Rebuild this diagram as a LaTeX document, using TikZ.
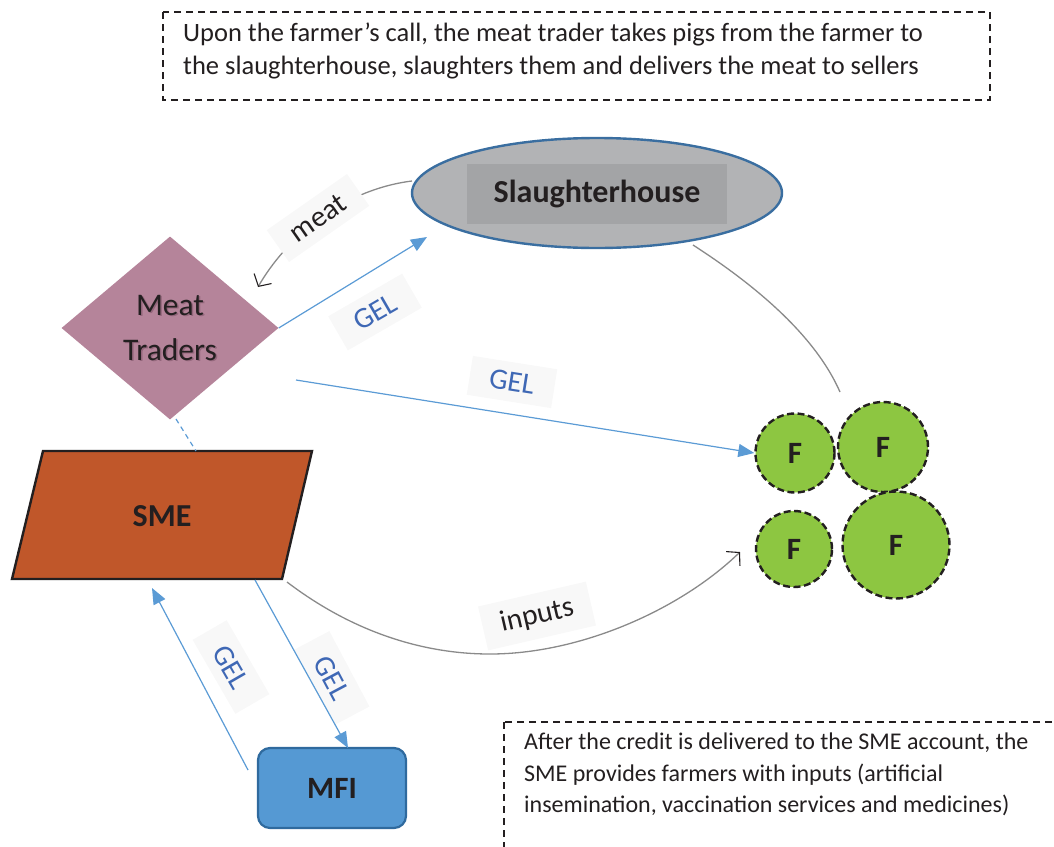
\documentclass[tikz,border=0pt]{standalone}
\usepackage{fontspec}
\setmainfont{Carlito}
\usetikzlibrary{shapes.geometric,arrows.meta}
\definecolor{inkdark}{HTML}{231F20}
\definecolor{shgray}{HTML}{B2B3B5}
\definecolor{shinner}{HTML}{A3A4A6}
\definecolor{shborder}{HTML}{3A6EA0}
\definecolor{mauve}{HTML}{B5849A}
\definecolor{mauveshade}{HTML}{7E5568}
\definecolor{smefill}{HTML}{C0572A}
\definecolor{mfifill}{HTML}{5599D3}
\definecolor{mfiborder}{HTML}{2F6A9E}
\definecolor{farmgreen}{HTML}{8DC641}
\definecolor{flowblue}{HTML}{5B9BD5}
\definecolor{labelblue}{HTML}{3F68B5}
\definecolor{flowgray}{HTML}{8A8A8A}
\definecolor{labelbg}{HTML}{F8F8F8}
\tikzset{
  note/.style={draw=inkdark, line width=1.3pt, dash pattern=on 7pt off 5pt},
  notetext/.style={font=\fontsize{26.5}{33}\selectfont, text=inkdark, align=left, anchor=north west, inner sep=0pt},
  farmer/.style={circle, draw=inkdark, fill=farmgreen, line width=2.4pt, dash pattern=on 7pt off 3.5pt, inner sep=0pt, font=\bfseries\fontsize{31}{31}\selectfont, text=inkdark},
  money/.style={draw=flowblue, line width=1.2pt, -{Triangle[length=16pt,width=13pt]}},
  goods/.style={draw=flowgray, line width=1.3pt, -{Straight Barb[length=9pt,width=20pt,color=inkdark,line width=1.1pt]}},
  gel/.style={fill=labelbg, text=labelblue, font=\fontsize{29.5}{29.5}\selectfont, inner xsep=20pt, inner ysep=10pt},
  glabel/.style={fill=labelbg, text=inkdark, font=\fontsize{29.5}{29.5}\selectfont, inner xsep=18pt, inner ysep=10pt},
  mtfont/.style={align=center, font=\fontsize{31.5}{45}\selectfont},
}
\begin{document}
\begin{tikzpicture}[x=1pt,y=-1pt]
\useasboundingbox (0,0) rectangle (1054,846);
\clip (0,0) rectangle (1054,846);

% explanatory notes
\draw[note] (163,12) rectangle (990,100);
\node[notetext] (topnote) at (183,23) {Upon the farmer’s call, the meat trader takes pigs from the farmer to\\the slaughterhouse, slaughters them and delivers the meat to sellers};
\draw[note] (504,722) rectangle (1080,900);
\node[notetext, font=\fontsize{24}{31.5}\selectfont] (botnote) at (524,733) {After the credit is delivered to the SME account, the\\SME provides farmers with inputs (artificial\\insemination, vaccination services and medicines)};

% actors
\node[ellipse, draw=shborder, fill=shgray, line width=2.4pt, minimum width=370pt, minimum height=110pt, inner sep=0pt] (sh) at (597,193) {};
\node[fill=shinner, minimum width=260pt, minimum height=60pt, inner sep=0pt, font=\bfseries\fontsize{32}{32}\selectfont, text=inkdark] (shlabel) at (597,194) {Slaughterhouse};

\node[diamond, fill=mauve, minimum width=217pt, minimum height=183pt, inner sep=0pt] (mt) at (170,328) {};
\node[mtfont, text=mauveshade, opacity=0.6] (mtshade) at (171.5,329.5) {Meat\\Traders};
\node[mtfont, text=inkdark] (mtlabel) at (170,328) {Meat\\Traders};

\filldraw[fill=smefill, draw=inkdark, line width=2.4pt] (43,451) -- (312,451) -- (282,579) -- (12,579) -- cycle;
\node[font=\bfseries\fontsize{32}{32}\selectfont, text=inkdark] (sme) at (162,516) {SME};

\node[draw=mfiborder, fill=mfifill, line width=2.2pt, rounded corners=12pt, minimum width=148pt, minimum height=80pt, inner sep=0pt, font=\bfseries\fontsize{31}{31}\selectfont, text=inkdark] (mfi) at (332,788) {MFI};

\node[farmer, minimum size=79pt] (f1) at (795,453) {F};
\node[farmer, minimum size=90pt] (f2) at (883,447) {F};
\node[farmer, minimum size=76pt] (f3) at (794,549) {F};
\node[farmer, minimum size=107pt] (f4) at (896,545) {F};

% free ends of the flows
\coordinate (shL) at (412,181);
\coordinate (shB) at (693,245);
\coordinate (meatEnd) at (258,287);
\coordinate (gelShEnd) at (427,237);
\coordinate (gelFStart) at (296,380);
\coordinate (mtBottom) at (176,419);
\coordinate (smeTop) at (196,451);
\coordinate (smeBR) at (287,582);
\coordinate (inputsEnd) at (740,552);
\coordinate (smeOut) at (255,580);
\coordinate (mfiTop) at (348,748);
\coordinate (mfiOut) at (248,770);
\coordinate (smeIn) at (152,588);
\coordinate (pigsEnd) at (840,392);

% flows of goods
\draw[goods] (shL) .. controls (340,190) and (285,240) .. (meatEnd);
\node[glabel, rotate=35] (meatlbl) at (318,218) {meat};
\draw[draw=flowgray, line width=1.3pt] (shB) .. controls (755,285) and (815,335) .. (pigsEnd);
\draw[goods] (smeBR) .. controls (350,630) and (420,654) .. (490,654)
  .. controls (580,654) and (680,610) .. (inputsEnd);
\node[glabel, rotate=13] (inputslbl) at (537,616) {inputs};

% flows of money (labels first, lines on top)
\node[gel, rotate=30] (gel1) at (375,312) {GEL};
\node[gel, rotate=-9] (gel2) at (512,382) {GEL};
\node[gel, rotate=-62] (gel3) at (332,678) {GEL};
\node[gel, rotate=-60] (gel4) at (231,667) {GEL};
\draw[money] (mt.east) -- (gelShEnd);
\draw[money] (gelFStart) -- (f1.west);
\draw[money] (smeOut) -- (mfiTop);
\draw[money] (mfiOut) -- (smeIn);
\draw[draw=flowblue, line width=1.2pt, dash pattern=on 5pt off 4pt] (mtBottom) -- (smeTop);
\end{tikzpicture}
\end{document}
